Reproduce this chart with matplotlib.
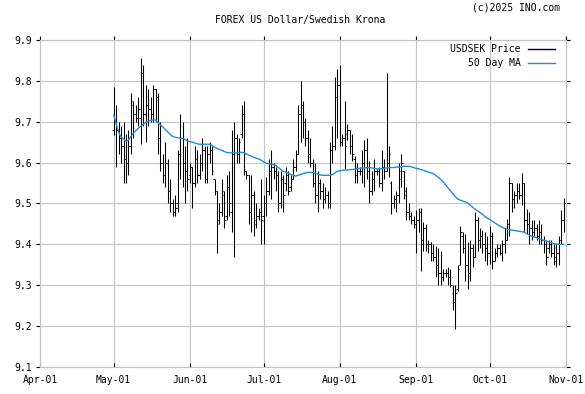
import numpy as np
import pandas as pd
import matplotlib
matplotlib.use('Agg')
import matplotlib.pyplot as plt
import matplotlib.dates as mdates
from matplotlib.lines import Line2D

# daily bars, 2025-05-01 .. 2025-10-31
dates = pd.date_range('2025-05-01', '2025-10-31', freq='D')

opens = [
    # May
    9.68, 9.70, 9.68, 9.66, 9.64, 9.61, 9.60, 9.64, 9.74, 9.72, 9.71, 9.71, 9.82, 9.72, 9.74, 9.73,
    9.72, 9.78, 9.76, 9.66, 9.60, 9.57, 9.60, 9.53, 9.50, 9.48, 9.50, 9.62, 9.66, 9.60, 9.58,
    # Jun
    9.57, 9.59, 9.55, 9.61, 9.57, 9.60, 9.63, 9.56, 9.62, 9.63, 9.56, 9.53, 9.46, 9.48, 9.52,
    9.47, 9.54, 9.48, 9.62, 9.66, 9.62, 9.67, 9.72, 9.58, 9.57, 9.48, 9.52, 9.46, 9.47, 9.48,
    # Jul
    9.47, 9.50, 9.53, 9.58, 9.59, 9.58, 9.57, 9.50, 9.56, 9.55, 9.57, 9.54, 9.56, 9.59, 9.62, 9.72,
    9.74, 9.70, 9.66, 9.62, 9.60, 9.55, 9.52, 9.55, 9.53, 9.51, 9.52, 9.50, 9.63, 9.64, 9.76,
    # Aug
    9.79, 9.65, 9.66, 9.67, 9.68, 9.64, 9.61, 9.57, 9.58, 9.58, 9.60, 9.63, 9.58, 9.53, 9.56, 9.58,
    9.58, 9.55, 9.59, 9.58, 9.60, 9.55, 9.50, 9.51, 9.52, 9.56, 9.58, 9.53, 9.48, 9.47, 9.46,
    # Sep
    9.45, 9.46, 9.48, 9.41, 9.44, 9.40, 9.40, 9.38, 9.37, 9.35, 9.33, 9.32, 9.33, 9.33, 9.32,
    9.28, 9.26, 9.29, 9.35, 9.42, 9.39, 9.35, 9.33, 9.39, 9.37, 9.46, 9.41, 9.42, 9.40, 9.39,
    # Oct
    9.38, 9.42, 9.36, 9.38, 9.39, 9.38, 9.40, 9.41, 9.45, 9.55, 9.51, 9.52, 9.53, 9.52, 9.55, 9.46,
    9.45, 9.44, 9.43, 9.44, 9.42, 9.43, 9.41, 9.40, 9.39, 9.40, 9.38, 9.37, 9.38, 9.41, 9.46,
]
highs = [
    9.785, 9.74, 9.70, 9.69, 9.70, 9.67, 9.68, 9.77, 9.75, 9.74, 9.76, 9.855, 9.84, 9.79, 9.78, 9.76,
    9.79, 9.78, 9.77, 9.70, 9.62, 9.65, 9.61, 9.56, 9.51, 9.52, 9.63, 9.72, 9.70, 9.64, 9.66,
    9.60, 9.59, 9.64, 9.63, 9.62, 9.66, 9.64, 9.64, 9.65, 9.64, 9.56, 9.53, 9.50, 9.56, 9.53,
    9.57, 9.58, 9.68, 9.70, 9.67, 9.66, 9.74, 9.75, 9.58, 9.57, 9.57, 9.53, 9.50, 9.49, 9.56,
    9.52, 9.565, 9.61, 9.63, 9.60, 9.59, 9.58, 9.58, 9.57, 9.59, 9.58, 9.57, 9.61, 9.63, 9.74, 9.80,
    9.75, 9.71, 9.68, 9.66, 9.61, 9.60, 9.58, 9.56, 9.55, 9.54, 9.53, 9.65, 9.69, 9.81, 9.83,
    9.84, 9.67, 9.75, 9.695, 9.68, 9.67, 9.615, 9.60, 9.59, 9.63, 9.655, 9.66, 9.605, 9.58, 9.61, 9.585,
    9.59, 9.63, 9.61, 9.82, 9.64, 9.555, 9.52, 9.53, 9.60, 9.62, 9.58, 9.54, 9.50, 9.48, 9.47,
    9.483, 9.49, 9.49, 9.455, 9.45, 9.41, 9.405, 9.40, 9.397, 9.39, 9.385, 9.34, 9.34, 9.345, 9.34,
    9.30, 9.30, 9.35, 9.446, 9.43, 9.426, 9.405, 9.41, 9.40, 9.479, 9.467, 9.44, 9.435, 9.43, 9.42,
    9.446, 9.43, 9.39, 9.40, 9.40, 9.41, 9.44, 9.463, 9.566, 9.55, 9.53, 9.55, 9.55, 9.574, 9.55, 9.487,
    9.48, 9.46, 9.46, 9.45, 9.46, 9.45, 9.42, 9.41, 9.41, 9.41, 9.40, 9.40, 9.42, 9.483, 9.513,
]
lows = [
    9.667, 9.59, 9.62, 9.60, 9.55, 9.55, 9.57, 9.62, 9.66, 9.70, 9.69, 9.645, 9.69, 9.65, 9.69, 9.70,
    9.70, 9.70, 9.62, 9.58, 9.55, 9.54, 9.50, 9.48, 9.47, 9.47, 9.48, 9.56, 9.54, 9.50, 9.53,
    9.55, 9.49, 9.54, 9.55, 9.56, 9.58, 9.55, 9.55, 9.60, 9.57, 9.52, 9.38, 9.45, 9.47, 9.44,
    9.46, 9.47, 9.43, 9.37, 9.60, 9.60, 9.66, 9.57, 9.56, 9.45, 9.43, 9.42, 9.44, 9.46, 9.40,
    9.40, 9.47, 9.52, 9.51, 9.56, 9.53, 9.48, 9.49, 9.48, 9.53, 9.52, 9.53, 9.56, 9.58, 9.62, 9.65,
    9.66, 9.64, 9.60, 9.59, 9.54, 9.50, 9.48, 9.51, 9.49, 9.50, 9.49, 9.49, 9.60, 9.63, 9.66,
    9.64, 9.64, 9.585, 9.655, 9.62, 9.605, 9.55, 9.55, 9.57, 9.55, 9.54, 9.56, 9.50, 9.52, 9.53, 9.57,
    9.54, 9.53, 9.56, 9.58, 9.565, 9.475, 9.49, 9.48, 9.50, 9.54, 9.51, 9.46, 9.46, 9.45, 9.44,
    9.38, 9.43, 9.335, 9.385, 9.385, 9.38, 9.36, 9.36, 9.32, 9.30, 9.30, 9.31, 9.32, 9.30, 9.295,
    9.24, 9.193, 9.285, 9.35, 9.38, 9.31, 9.29, 9.31, 9.345, 9.37, 9.385, 9.39, 9.38, 9.36, 9.35,
    9.352, 9.34, 9.36, 9.37, 9.375, 9.36, 9.38, 9.41, 9.42, 9.48, 9.49, 9.50, 9.51, 9.497, 9.431, 9.426,
    9.40, 9.41, 9.42, 9.41, 9.40, 9.40, 9.38, 9.35, 9.38, 9.37, 9.35, 9.345, 9.35, 9.40, 9.43,
]
closes = [
    9.70, 9.68, 9.66, 9.64, 9.61, 9.60, 9.64, 9.75, 9.72, 9.71, 9.73, 9.82, 9.72, 9.74, 9.73, 9.72,
    9.78, 9.76, 9.66, 9.60, 9.57, 9.60, 9.53, 9.50, 9.48, 9.49, 9.62, 9.66, 9.60, 9.58, 9.56,
    9.59, 9.55, 9.61, 9.57, 9.60, 9.63, 9.56, 9.62, 9.63, 9.58, 9.53, 9.45, 9.48, 9.53, 9.46,
    9.54, 9.50, 9.62, 9.66, 9.62, 9.65, 9.72, 9.58, 9.57, 9.48, 9.52, 9.45, 9.47, 9.48, 9.46,
    9.50, 9.53, 9.58, 9.59, 9.58, 9.57, 9.50, 9.56, 9.52, 9.57, 9.53, 9.56, 9.59, 9.62, 9.72, 9.74,
    9.70, 9.66, 9.62, 9.60, 9.55, 9.52, 9.55, 9.53, 9.51, 9.52, 9.50, 9.63, 9.64, 9.76, 9.79,
    9.65, 9.66, 9.64, 9.68, 9.64, 9.62, 9.57, 9.58, 9.58, 9.60, 9.63, 9.58, 9.53, 9.56, 9.58, 9.58,
    9.55, 9.59, 9.58, 9.60, 9.62, 9.50, 9.51, 9.52, 9.58, 9.60, 9.52, 9.48, 9.47, 9.46, 9.45,
    9.46, 9.48, 9.40, 9.44, 9.40, 9.40, 9.38, 9.37, 9.35, 9.33, 9.32, 9.33, 9.33, 9.32, 9.30,
    9.26, 9.28, 9.34, 9.43, 9.39, 9.35, 9.33, 9.39, 9.37, 9.46, 9.41, 9.42, 9.40, 9.39, 9.38,
    9.42, 9.36, 9.38, 9.39, 9.38, 9.40, 9.41, 9.45, 9.55, 9.51, 9.52, 9.53, 9.52, 9.55, 9.46, 9.45,
    9.44, 9.43, 9.44, 9.42, 9.43, 9.41, 9.40, 9.37, 9.40, 9.38, 9.36, 9.38, 9.41, 9.46, 9.50,
]
ma50 = [
    9.716, 9.695, 9.675, 9.662, 9.658, 9.652, 9.655, 9.664, 9.672, 9.678, 9.684, 9.689, 9.694, 9.698,
    9.701, 9.703, 9.704, 9.704, 9.698, 9.692, 9.687, 9.681, 9.675, 9.669, 9.664, 9.662, 9.661, 9.660,
    9.659, 9.657, 9.653,
    9.651, 9.650, 9.648, 9.646, 9.645, 9.645, 9.645, 9.645, 9.645, 9.642, 9.638, 9.635, 9.632, 9.630,
    9.627, 9.625, 9.624, 9.624, 9.624, 9.624, 9.625, 9.625, 9.624, 9.621, 9.618, 9.616, 9.613, 9.611,
    9.609, 9.606,
    9.602, 9.599, 9.597, 9.596, 9.595, 9.593, 9.588, 9.583, 9.579, 9.577, 9.574, 9.571, 9.569, 9.567,
    9.569, 9.571, 9.573, 9.575, 9.576, 9.576, 9.576, 9.574, 9.572, 9.570, 9.569, 9.569, 9.569, 9.569,
    9.571, 9.575, 9.579,
    9.580, 9.581, 9.582, 9.582, 9.583, 9.583, 9.584, 9.585, 9.586, 9.587, 9.587, 9.588, 9.588, 9.587,
    9.586, 9.585, 9.585, 9.585, 9.586, 9.587, 9.588, 9.588, 9.588, 9.589, 9.589, 9.590, 9.591, 9.591,
    9.591, 9.590, 9.588,
    9.586, 9.585, 9.583, 9.581, 9.579, 9.577, 9.575, 9.573, 9.569, 9.564, 9.559, 9.553, 9.546, 9.538,
    9.531, 9.524, 9.517, 9.511, 9.508, 9.506, 9.504, 9.501, 9.496, 9.491, 9.486, 9.482, 9.478, 9.474,
    9.468, 9.464,
    9.461, 9.457, 9.453, 9.449, 9.445, 9.442, 9.439, 9.437, 9.436, 9.435, 9.434, 9.433, 9.432, 9.431,
    9.430, 9.426, 9.423, 9.420, 9.418, 9.416, 9.414, 9.412, 9.410, 9.408, 9.406, 9.404, 9.402, 9.401,
    9.400, 9.400, 9.400,
]

title = "FOREX US Dollar/Swedish Krona"
credit = "(c)2025 INO.com"
yticks = [9.1, 9.2, 9.3, 9.4, 9.5, 9.6, 9.7, 9.8, 9.9]
month_starts = pd.date_range('2025-04-01', '2025-11-01', freq='MS')

mono = 'DejaVu Sans Mono'
fs = 7
grid_c = '#c4c4c4'
ma_c = '#1f8fd4'

x = mdates.date2num(dates)
xt = mdates.date2num(month_starts)

fig = plt.figure(figsize=(5.85, 3.94), dpi=100)
ax = fig.add_axes([40/585, 1-367/394, 526/585, 327/394])

# OHLC bars
hl = ax.vlines(x, lows, highs, color='black', lw=0.75)
hl.set_snap(True)
ax.hlines(opens, x-0.55, x, color='black', lw=0.75)
ax.hlines(closes, x, x+0.55, color='black', lw=0.75)
ax.plot(x, ma50, color=ma_c, lw=1.0)

ax.set_xlim(xt[0], xt[-1])
ax.set_ylim(9.1, 9.9)
ax.set_xticks(xt)
ax.set_xticklabels([d.strftime('%b-%d') for d in month_starts], fontfamily=mono, fontsize=fs)
ax.set_yticks(yticks)
ax.set_yticklabels(['%.1f' % v for v in yticks], fontfamily=mono, fontsize=fs)

ax.grid(True, color=grid_c, lw=0.8)
ax.set_axisbelow(True)
for s in ax.spines.values():
    s.set_color(grid_c)
    s.set_linewidth(0.8)

ax.tick_params(axis='y', left=True, right=True, direction='out', length=3, width=0.8,
               color='black', pad=3)
ax.tick_params(axis='x', bottom=True, direction='in', length=3, width=0.8,
               color='black', pad=6)
top = ax.secondary_xaxis('top')
top.set_xticks(xt)
top.set_xticklabels([])
top.tick_params(direction='out', length=3, width=0.8, color='black')
top.spines['top'].set_visible(False)

fig.text(300/585, 1-20/394, title, ha='center', va='center', fontfamily=mono, fontsize=fs)
fig.text(560/585, 1-8/394, credit, ha='right', va='center', fontfamily=mono, fontsize=fs)

# legend, right-aligned text with line samples
leg_items = [("USDSEK Price", 'black', 49), ("50 Day MA", ma_c, 63)]
for label, c, py in leg_items:
    fig.text(521/585, 1-py/394, label, ha='right', va='center', fontfamily=mono, fontsize=fs)
    fig.add_artist(Line2D([528/585, 555/585], [1-py/394, 1-py/394], color=c, lw=1.0))

fig.savefig('out.png', dpi=100)
